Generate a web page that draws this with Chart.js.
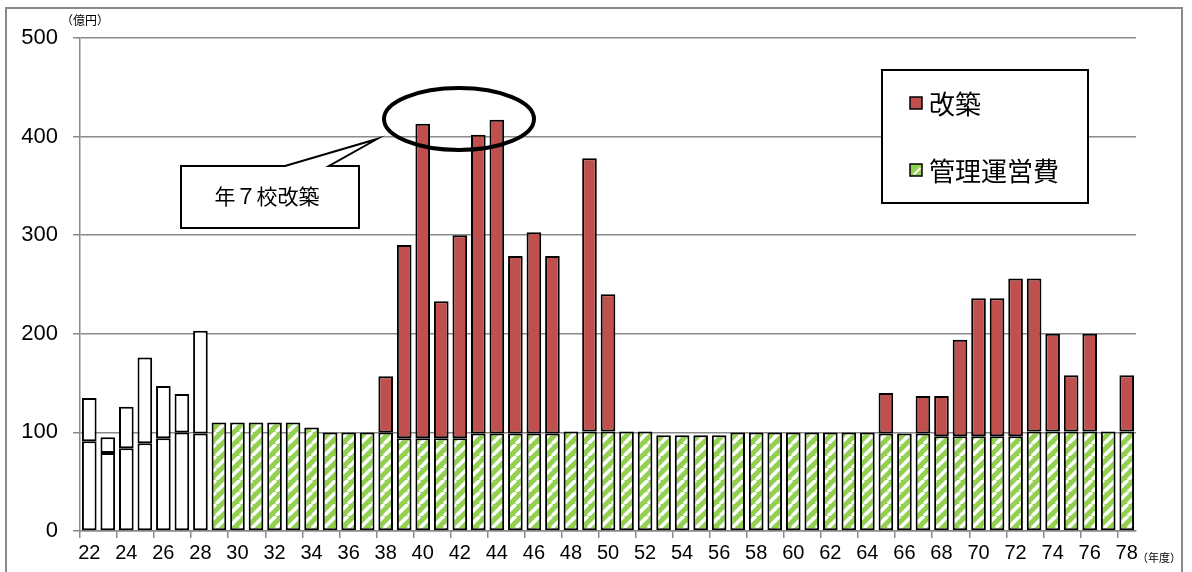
<!DOCTYPE html>
<html><head><meta charset="utf-8">
<script src="https://cdn.jsdelivr.net/npm/chart.js@4"></script>
<style>
html,body{margin:0;padding:0;background:#fff;overflow:hidden;}
#wrap{position:relative;width:1192px;height:572px;}
#frame{position:absolute;left:5px;top:7px;width:1178px;height:600px;border:2px solid #8a8a8a;box-sizing:border-box;pointer-events:none;}
canvas{position:absolute;left:0;top:0;}
</style></head>
<body><div id="wrap"><canvas id="c" width="1192" height="572"></canvas><div id="frame"></div></div>
<script>
// ---- data ----
const years = [];
for (let y = 22; y <= 78; y++) years.push(String(y));
// early years (22-28): white bars, lower part and total
const oldLower = [91, 79, 84, 89, 94, 100, 99];
const oldTotal = [135, 95, 126, 176, 147, 139, 203];
// 管理運営費 (29-78)
const mgmt = [110,110,110,110,110,105,100,100,100,100,
              94,94,94,94,99,99,99,99,99,101,
              101,101,101,101,97,97,97,97,100,100,
              100,100,100,100,100,100,99,99,99,96,
              96,96,96,96,101,101,101,101,101,101];
// total (管理運営費 + 改築) for 29-78; equal to mgmt where no 改築
const total = [110,110,110,110,110,105,100,100,100,157,
               290,413,233,300,402,417,279,303,279,101,
               378,240,101,101,97,97,97,97,100,100,
               100,100,100,100,100,100,140,99,137,137,
               194,236,236,256,256,200,158,200,101,158];
const yTicks = [0, 100, 200, 300, 400, 500];

// build series aligned to all years
const nOld = oldLower.length;
const sOldLower = years.map((_, i) => i < nOld ? oldLower[i] : null);
const sOldUpper = years.map((_, i) => i < nOld ? oldTotal[i] - oldLower[i] : null);
const sMgmt = years.map((_, i) => i >= nOld ? mgmt[i - nOld] : null);
const sRebuild = years.map((_, i) => {
  if (i < nOld) return null;
  const d = total[i - nOld] - mgmt[i - nOld];
  return d > 0 ? d : null;
});

function makePattern(size) {
  const c = document.createElement('canvas');
  c.width = c.height = size;
  const g = c.getContext('2d');
  g.fillStyle = '#92D050';
  g.fillRect(0, 0, size, size);
  g.strokeStyle = '#ffffff';
  g.lineWidth = 3.6;
  g.beginPath();
  for (let k = -1; k <= 1; k++) { g.moveTo(k * size, size); g.lineTo(k * size + size, 0); }
  g.stroke();
  const ctx = document.getElementById('c').getContext('2d');
  return ctx.createPattern(c, 'repeat');
}
const greenPat = makePattern(12);
const RED = '#C0504D';
const GRID = '#8a8a8a';

const overlay = {
  id: 'overlay',
  afterDraw(chart) {
    const ctx = chart.ctx;
    ctx.save();
    // unit labels
    ctx.fillStyle = '#000';
    ctx.font = '12px "Noto Sans CJK JP"';
    ctx.textBaseline = 'middle';
    ctx.textAlign = 'left';
    ctx.fillText('（億円）', 61, 20);
    ctx.font = '11px "Noto Sans CJK JP"';
    ctx.fillText('（年度）', 1137, 558);

    // callout box
    ctx.lineWidth = 2;
    ctx.strokeStyle = '#000';
    ctx.fillStyle = '#fff';
    ctx.beginPath();
    ctx.moveTo(181, 166);
    ctx.lineTo(285, 166);
    ctx.lineTo(377, 139);
    ctx.lineTo(329, 166);
    ctx.lineTo(359, 166);
    ctx.lineTo(359, 228);
    ctx.lineTo(181, 228);
    ctx.closePath();
    ctx.fill();
    ctx.stroke();
    ctx.fillStyle = '#000';
    ctx.font = '21px "Noto Sans CJK JP"';
    ctx.textAlign = 'center';
    ctx.fillText('年７校改築', 267, 196);

    // ellipse
    ctx.lineWidth = 4;
    ctx.beginPath();
    ctx.ellipse(459, 119, 75, 31, 0, 0, Math.PI * 2);
    ctx.stroke();

    // legend
    ctx.lineWidth = 2;
    ctx.fillStyle = '#fff';
    ctx.fillRect(882, 70, 206, 133);
    ctx.strokeRect(882, 70, 206, 133);
    ctx.lineWidth = 1.5;
    ctx.fillStyle = RED;
    ctx.fillRect(910, 97, 12, 12);
    ctx.strokeRect(910, 97, 12, 12);
    ctx.fillStyle = '#92D050';
    ctx.fillRect(910, 164, 12, 12);
    ctx.fillStyle = '#fff';
    ctx.beginPath(); ctx.moveTo(913,174); ctx.lineTo(920,167); ctx.lineTo(921,169); ctx.lineTo(915,175); ctx.closePath(); ctx.fill();
    ctx.strokeRect(910, 164, 12, 12);
    ctx.fillStyle = '#000';
    ctx.font = '26px "Noto Sans CJK JP"';
    ctx.textAlign = 'left';
    ctx.fillText('改築', 929, 104);
    ctx.fillText('管理運営費', 929, 171);
    ctx.restore();
  }
};

new Chart(document.getElementById('c'), {
  type: 'bar',
  data: {
    labels: years,
    datasets: [
      { label: 'old-lower', data: sOldLower, backgroundColor: '#fff', borderColor: '#000', borderWidth: 2, borderSkipped: false, stack: 's' },
      { label: 'old-upper', data: sOldUpper, backgroundColor: '#fff', borderColor: '#000', borderWidth: 2, borderSkipped: false, stack: 's' },
      { label: '管理運営費', data: sMgmt, backgroundColor: greenPat, borderColor: '#000', borderWidth: 2, borderSkipped: false, stack: 's' },
      { label: '改築', data: sRebuild, backgroundColor: RED, borderColor: '#000', borderWidth: 2, borderSkipped: false, stack: 's' }
    ]
  },
  options: {
    responsive: false,
    animation: false,
    devicePixelRatio: 1,
    datasets: { bar: { categoryPercentage: 1, barPercentage: 0.79 } },
    layout: { padding: { left: 0, right: 56, top: 38, bottom: 0 } },
    plugins: { legend: { display: false }, tooltip: { enabled: false } },
    scales: {
      x: {
        stacked: true,
        grid: {
          drawOnChartArea: false, offset: true, tickLength: 7, color: GRID, lineWidth: 1.5,
          tickColor: (c) => (c.index % 2 === 0 ? GRID : 'rgba(0,0,0,0)')
        },
        border: { color: GRID, width: 1.5 },
        ticks: {
          autoSkip: false, maxRotation: 0, minRotation: 0, padding: 3,
          color: '#000', font: { family: '"Liberation Sans", Arial', size: 20 },
          callback: function (v, i) { return i % 2 === 0 ? this.getLabelForValue(v) : ''; }
        },
        afterFit: (s) => { s.height = 41; }
      },
      y: {
        stacked: true, min: 0, max: 500,
        afterBuildTicks: (s) => { s.ticks = yTicks.map(v => ({ value: v })); },
        grid: { color: GRID, lineWidth: 1.5, tickLength: 7, tickColor: GRID },
        border: { color: GRID, width: 1.5 },
        ticks: { color: '#000', padding: 15, font: { family: '"Liberation Sans", Arial', size: 22 } },
        afterFit: (s) => { s.width = 80; }
      }
    }
  },
  plugins: [overlay]
});
</script></body></html>
